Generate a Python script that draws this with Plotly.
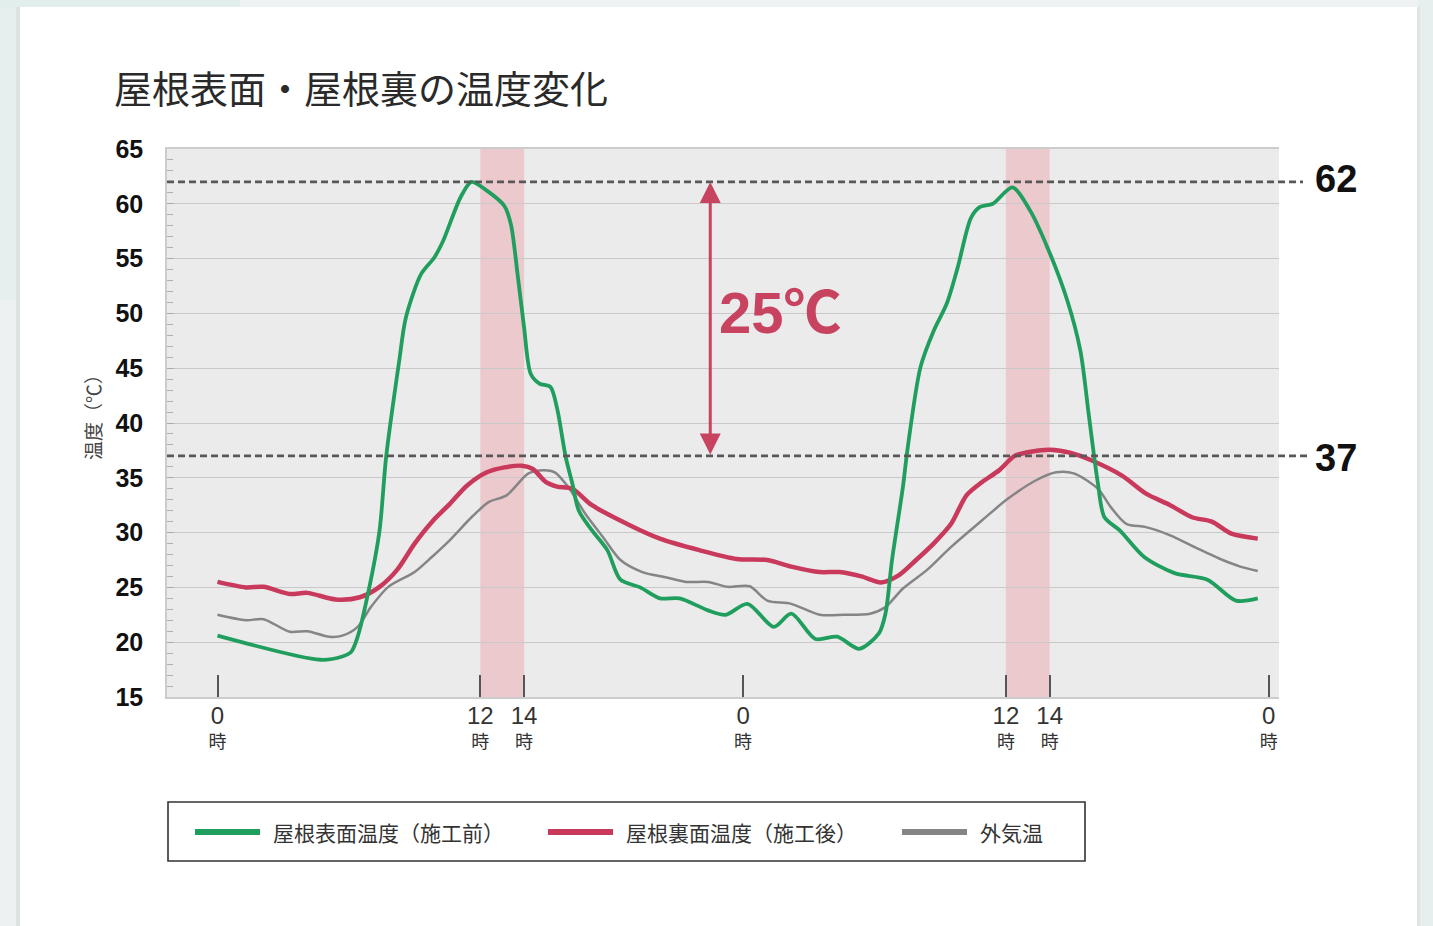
import plotly.graph_objects as go

# ---- measured temperatures (hour of the two-day run, degC) ----
hours_surface = [0.0, 4.7, 5.7, 6.1, 6.4, 6.9, 7.4, 7.7, 8.3, 8.6, 9.3, 9.9, 10.3, 11.1, 11.6,
                 12.3, 13.1, 13.4, 13.7, 14.0, 14.3, 14.7, 15.2, 15.5, 15.9, 16.2, 16.5, 17.1,
                 17.8, 18.4, 19.3, 20.2, 21.1, 22.4, 23.2, 24.2, 25.4, 26.2, 27.3, 28.3, 29.3,
                 30.2, 30.5, 30.8, 31.3, 31.5, 32.1, 32.7, 33.3, 33.8, 34.4, 34.8, 35.4, 36.3,
                 37.1, 37.9, 38.8, 39.4, 39.8, 40.2, 40.5, 41.2, 42.3, 43.7, 45.2, 46.5, 47.5]
temp_surface = [20.6, 18.4, 18.7, 19.1, 20.5, 24.7, 30.2, 36.9, 45.7, 49.6, 53.6, 55.1, 56.6, 60.6, 62.0,
                61.2, 59.8, 58.1, 53.6, 48.7, 44.5, 43.6, 43.3, 41.4, 36.9, 34.5, 32.0, 30.2,
                28.4, 25.7, 25.0, 24.0, 24.0, 22.9, 22.5, 23.5, 21.4, 22.6, 20.3, 20.5, 19.4,
                20.8, 22.6, 27.5, 34.2, 37.5, 45.1, 48.4, 50.9, 54.2, 58.7, 59.7, 60.0, 61.5,
                59.4, 56.0, 51.2, 46.6, 40.5, 34.5, 31.4, 30.2, 27.8, 26.3, 25.7, 23.8, 24.0]

hours_back = [0.0, 1.3, 2.1, 3.3, 4.1, 5.4, 6.5, 7.4, 8.2, 9.0, 9.8, 10.6, 11.4, 12.3, 13.1,
              13.9, 14.4, 15.0, 15.5, 16.2, 17.1, 18.8, 20.2, 22.0, 23.7, 25.1, 26.2, 27.5,
              28.4, 29.4, 30.3, 31.1, 31.9, 32.7, 33.5, 34.2, 34.9, 35.7, 36.4, 37.2, 38.0,
              39.0, 39.9, 41.3, 42.4, 43.5, 44.5, 45.4, 46.3, 47.5]
temp_back = [25.5, 25.0, 25.05, 24.4, 24.5, 23.9, 24.1, 25.05, 26.6, 29.0, 31.0, 32.6, 34.3, 35.5, 35.95,
             36.1, 35.8, 34.6, 34.2, 34.0, 32.5, 30.7, 29.45, 28.4, 27.6, 27.5, 26.9, 26.4,
             26.4, 26.0, 25.45, 26.1, 27.5, 29.0, 30.8, 33.4, 34.6, 35.7, 37.0, 37.4, 37.55,
             37.25, 36.6, 35.2, 33.55, 32.5, 31.4, 31.0, 29.9, 29.45]

hours_outdoor = [0.0, 1.3, 2.1, 3.3, 4.1, 5.1, 5.7, 6.4, 7.0, 7.8, 9.0, 9.8, 10.6, 11.6, 12.4,
                 13.2, 14.2, 14.9, 15.4, 16.0, 16.8, 17.6, 18.4, 19.4, 20.4, 21.4, 22.4, 23.3,
                 24.3, 25.1, 26.2, 27.5, 28.6, 29.8, 30.5, 31.3, 32.4, 33.5, 34.9, 36.1, 37.4,
                 38.3, 39.1, 40.2, 40.8, 41.5, 42.4, 43.5, 44.6, 45.9, 46.7, 47.5]
temp_outdoor = [22.5, 22.0, 22.1, 20.95, 21.0, 20.5, 20.6, 21.4, 23.2, 25.05, 26.4, 27.8, 29.3, 31.4, 32.8,
                33.4, 35.4, 35.7, 35.5, 34.2, 31.7, 29.6, 27.5, 26.4, 25.95, 25.5, 25.5, 25.05,
                25.1, 23.8, 23.5, 22.5, 22.5, 22.6, 23.2, 24.9, 26.6, 28.7, 31.1, 33.1, 34.8,
                35.5, 35.4, 34.0, 32.3, 30.8, 30.5, 29.75, 28.7, 27.5, 26.9, 26.5]

series_names = ["屋根表面温度（施工前）", "屋根裏面温度（施工後）", "外気温"]
series_colors = ["#1f9e5d", "#c9395c", "#858587"]
series_widths = [3.8, 4.5, 2.5]

tick_hours = [0, 12, 14, 24, 36, 38, 48]
tick_clock = [0, 12, 14, 0, 12, 14, 0]
heat_bands = [(12, 14), (36, 38)]
ref_levels = [62, 37]
y_ticks = list(range(15, 70, 5))
diff_label = "25℃"
arrow_hour = 22.5
label_hour, label_temp = 25.7, 50.1

TITLE = "屋根表面・屋根裏の温度変化"
Y_TITLE = "温度（℃）"

W, H = 1433, 926
PL, PR, PT, PB = 167, 1279, 149, 697
NUM_FONT = "Liberation Sans, Arial, Noto Sans CJK JP"
JP_FONT = "Noto Sans CJK JP, sans-serif"
ACCENT = "#c8435f"


def xp(px):
    return (px - PL) / (PR - PL)


def yp(py):
    return (PB - py) / (PB - PT)


fig = go.Figure()
series = [(hours_surface, temp_surface), (hours_back, temp_back), (hours_outdoor, temp_outdoor)]
# draw the outdoor line first so the two roof lines sit on top
for idx in [2, 1, 0]:
    hx, ty = series[idx]
    fig.add_trace(go.Scatter(
        x=hx, y=ty, mode="lines", name=series_names[idx], showlegend=False,
        line=dict(color=series_colors[idx], width=series_widths[idx], shape="spline", smoothing=0.8),
        hoverinfo="skip",
    ))

shapes = []
# page surround outside the white card
shapes += [
    dict(type="rect", xref="paper", yref="paper", x0=xp(0), x1=xp(19), y0=yp(H), y1=yp(0),
         fillcolor="#edf1f1", line=dict(width=0), layer="below"),
    dict(type="rect", xref="paper", yref="paper", x0=xp(0), x1=xp(19), y0=yp(300), y1=yp(0),
         fillcolor="#e5efed", line=dict(width=0), layer="below"),
    dict(type="rect", xref="paper", yref="paper", x0=xp(16), x1=xp(20), y0=yp(H), y1=yp(7),
         fillcolor="#dde2e2", line=dict(width=0), layer="below"),
    dict(type="rect", xref="paper", yref="paper", x0=xp(0), x1=xp(W), y0=yp(7), y1=yp(0),
         fillcolor="#eef2f2", line=dict(width=0), layer="below"),
    dict(type="rect", xref="paper", yref="paper", x0=xp(0), x1=xp(240), y0=yp(7), y1=yp(0),
         fillcolor="#e2eeec", line=dict(width=0), layer="below"),
    dict(type="rect", xref="paper", yref="paper", x0=xp(1418), x1=xp(W), y0=yp(H), y1=yp(0),
         fillcolor="#e7eeee", line=dict(width=0), layer="below"),
    dict(type="rect", xref="paper", yref="paper", x0=xp(1417), x1=xp(1420), y0=yp(H), y1=yp(7),
         fillcolor="#dfe5e5", line=dict(width=0), layer="below"),
]
# midday bands
for a, b in heat_bands:
    shapes.append(dict(type="rect", xref="x", yref="paper", x0=a, x1=b, y0=0, y1=1,
                       fillcolor="rgba(236,160,168,0.45)", line=dict(width=0), layer="below"))
# reference levels, running out past the plot to their labels
for lvl, end_px in zip(ref_levels, [1303, 1310]):
    shapes.append(dict(type="line", xref="paper", yref="y", x0=0, x1=xp(end_px), y0=lvl, y1=lvl,
                       line=dict(color="#585858", width=2.8, dash="7px,4px"), layer="above"))

# legend frame and line samples
LEG_Y = 832
shapes.append(dict(type="rect", xref="paper", yref="paper", x0=xp(168), x1=xp(1085),
                   y0=yp(861), y1=yp(802), line=dict(color="#333333", width=1.6),
                   fillcolor="rgba(0,0,0,0)"))
legend_starts = [195, 548, 902]
for px0, col in zip(legend_starts, series_colors):
    shapes.append(dict(type="line", xref="paper", yref="paper", x0=xp(px0), x1=xp(px0 + 65),
                       y0=yp(LEG_Y), y1=yp(LEG_Y), line=dict(color=col, width=6)))

annotations = []
for px0, name in zip(legend_starts, series_names):
    annotations.append(dict(xref="paper", yref="paper", x=xp(px0 + 76), y=yp(LEG_Y), text=name,
                            showarrow=False, xanchor="left", yanchor="middle",
                            font=dict(family=JP_FONT, size=21, color="#333333")))
# level labels at the right
for lvl, shift in zip(ref_levels, [3, -2]):
    annotations.append(dict(xref="paper", yref="y", x=xp(1336), y=lvl, yshift=shift,
                            text=str(lvl), showarrow=False, xanchor="center", yanchor="middle",
                            font=dict(family=NUM_FONT, size=38, color="#111111", weight="bold")))
# double arrow between the two levels
annotations.append(dict(xref="x", yref="y", axref="x", ayref="y",
                        x=arrow_hour, y=ref_levels[0], ax=arrow_hour, ay=ref_levels[1], text="",
                        showarrow=True, arrowside="end+start", arrowhead=2, startarrowhead=2,
                        arrowsize=1.4, startarrowsize=1.4, arrowwidth=3, arrowcolor=ACCENT,
                        standoff=0, startstandoff=0))
annotations.append(dict(xref="x", yref="y", x=label_hour, y=label_temp, text=diff_label,
                        showarrow=False, xanchor="center", yanchor="middle",
                        font=dict(family=NUM_FONT, size=58, color=ACCENT, weight="bold")))
# y axis caption
annotations.append(dict(xref="paper", yref="paper", x=xp(92), y=yp(413), text=Y_TITLE,
                        showarrow=False, textangle=-90, xanchor="center", yanchor="middle",
                        font=dict(family=JP_FONT, size=19, color="#444444")))

tick_text = [f"<span style='font-size:24px'>{c}</span><br><span style='font-size:18px'>時</span>"
             for c in tick_clock]

fig.update_layout(
    width=W, height=H,
    margin=dict(l=PL, r=W - PR, t=PT, b=H - PB),
    paper_bgcolor="#ffffff",
    plot_bgcolor="#ebebeb",
    title=dict(text=TITLE, xref="container", yref="container", x=114 / W, y=1 - 90 / H,
               xanchor="left", yanchor="middle",
               font=dict(family=JP_FONT, size=38, color="#2a2a2a")),
    xaxis=dict(range=[(PL - 217.5) / 21.9, (PR - 217.5) / 21.9], tickmode="array",
               tickvals=tick_hours, ticktext=tick_text, ticks="inside", ticklen=22, tickwidth=2,
               tickcolor="#555555", showgrid=False, zeroline=False, showline=True, mirror=True,
               linecolor="#cccccc", linewidth=1.5,
               tickfont=dict(family=NUM_FONT, size=19, color="#333333"), ticklabelstandoff=2),
    yaxis=dict(range=[15, 65], tickmode="array", tickvals=y_ticks, ticks="inside", ticklen=7,
               tickcolor="#aaaaaa", showgrid=True, gridcolor="#c9c9c9", gridwidth=1.2,
               zeroline=False, showline=True, linecolor="#cccccc", linewidth=1.5,
               minor=dict(dtick=1, ticks="inside", ticklen=6, tickcolor="#b0b0b0", showgrid=False),
               tickfont=dict(family=NUM_FONT, size=25, color="#111111", weight="bold"),
               ticklabelstandoff=17),
    shapes=shapes,
    annotations=annotations,
)

fig.write_html("out.html")
